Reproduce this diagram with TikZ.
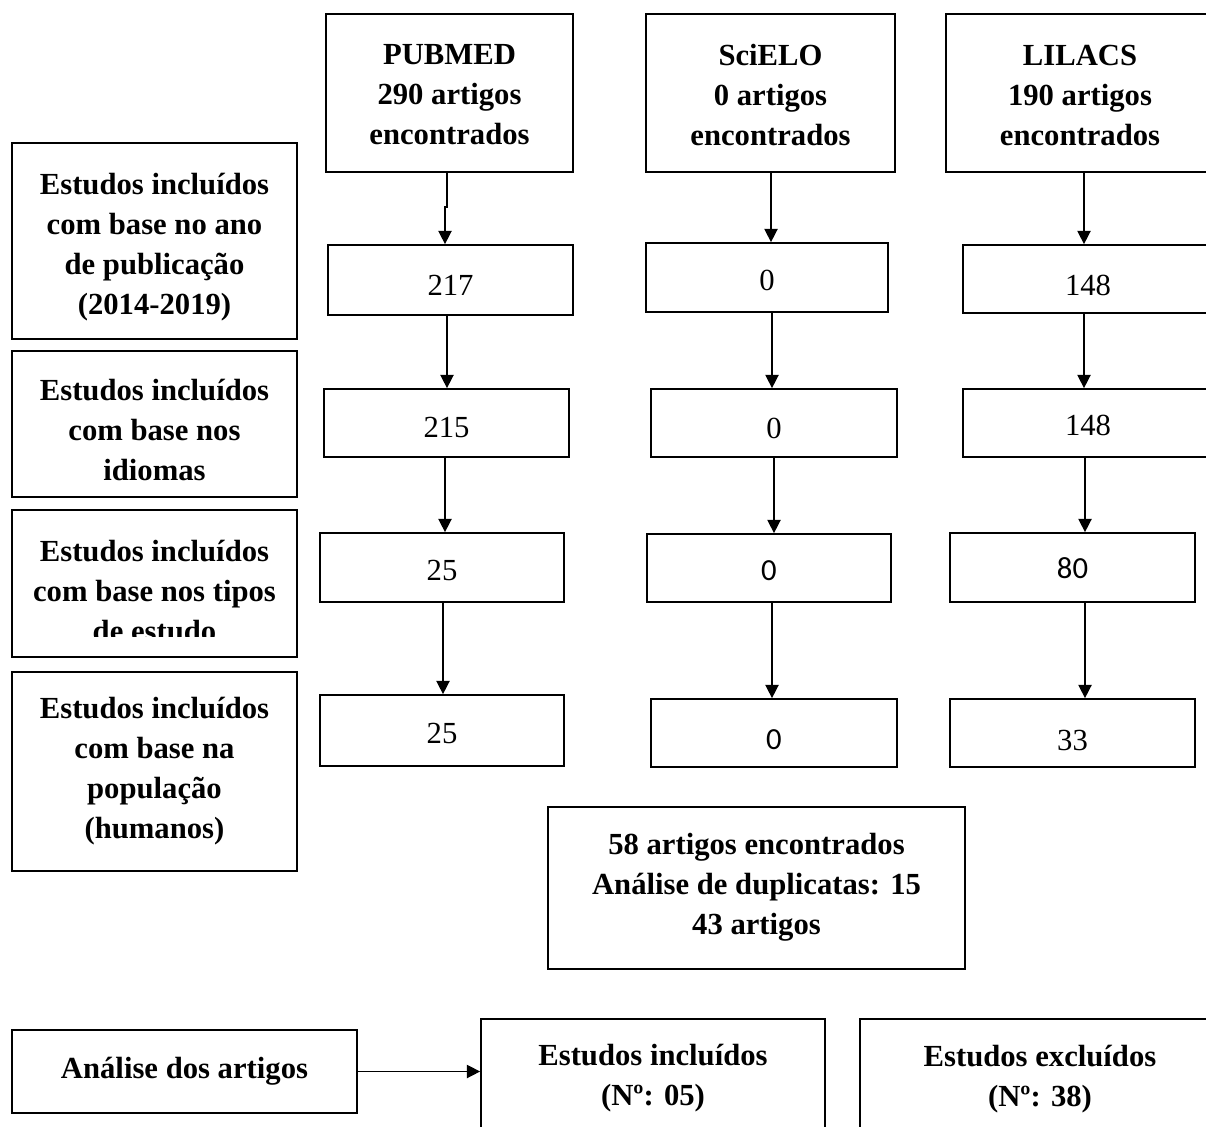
\documentclass[tikz,border=0pt]{standalone}
\usepackage{fontspec}
\setmainfont{Liberation Serif}
\newfontfamily\numsans{Carlito}
\usetikzlibrary{arrows.meta,fit,calc}
\begin{document}
\begin{tikzpicture}[x=0.75pt,y=-0.75pt,
  box/.style={draw, line width=1.3pt, inner sep=0pt},
  ntext/.style={inner sep=0pt, align=center, font=\fontsize{23}{30}\selectfont},
  htext/.style={inner sep=0pt, align=center, font=\fontsize{23}{30}\selectfont\bfseries},
  stext/.style={inner sep=0pt, align=center, font=\fontsize{23}{30}\selectfont\numsans},
  arr/.style={line width=1.1pt, -{Triangle[length=10pt,width=10pt]}}]
\useasboundingbox (0,0) rectangle (1206,1127);

% ---------- boxes ----------
\node[box, fit={(326,14)(573,172)}] (pub) {};
\node[box, fit={(646,14)(895,172)}] (sci) {};
\node[box, fit={(946,14)(1214,172)}] (lil) {};

\node[box, fit={(12,143)(297,339)}] (c1) {};
\node[box, fit={(12,351)(297,497)}] (c2) {};
\node[box, fit={(12,510)(297,657)}] (c3) {};
\node[box, fit={(12,672)(297,871)}] (c4) {};

\node[box, fit={(328,245)(573,315)}] (p1) {};
\node[box, fit={(324,389)(569,457)}] (p2) {};
\node[box, fit={(320,533)(564,602)}] (p3) {};
\node[box, fit={(320,695)(564,766)}] (p4) {};

\node[box, fit={(646,243)(888,312)}] (s0) {};
\node[box, fit={(651,389)(897,457)}] (s1) {};
\node[box, fit={(647,534)(891,602)}] (s2) {};
\node[box, fit={(651,699)(897,767)}] (s3) {};

\node[box, fit={(963,245)(1213,313)}] (l1) {};
\node[box, fit={(963,389)(1213,457)}] (l2) {};
\node[box, fit={(950,533)(1195,602)}] (l3) {};
\node[box, fit={(950,699)(1195,767)}] (l4) {};

\node[box, fit={(548,807)(965,969)}] (dup) {};

\node[box, fit={(12,1030)(357,1113)}] (ana) {};
\node[box, fit={(481,1019)(825,1136)}] (inc) {};
\node[box, fit={(860,1019)(1220,1136)}] (exc) {};

% ---------- texts ----------
\node[htext] (pubt) at ($(pub.center)+(0,2)$) {PUBMED\\290 artigos\\encontrados};
\node[htext] (scit) at ($(sci.center)+(0,2)$) {SciELO\\0 artigos\\encontrados};
\node[htext] (lilt) at ($(lil.center)+(0,2)$) {LILACS\\190 artigos\\encontrados};

\node[htext] (c1t) at ($(c1.center)+(0,6)$) {Estudos incluídos\\com base no ano\\de publicação\\(2014-2019)};
\node[htext] (c2t) at ($(c2.center)+(0,6)$) {Estudos incluídos\\com base nos\\idiomas};
\begin{scope}
  \clip (12,510) rectangle (297,636);
  \node[htext] (c3t) at (154.5,591) {Estudos incluídos\\com base nos tipos\\de estudo};
\end{scope}
\node[htext] (c4t) at ($(c4.center)+(0,0)$) {Estudos incluídos\\com base na\\população\\(humanos)};

\node[ntext] (p1t) at ($(p1.center)+(0,5)$) {217};
\node[ntext] (p2t) at ($(p2.center)+(0,4)$) {215};
\node[ntext] (p3t) at ($(p3.center)+(0,3)$) {25};
\node[ntext] (p4t) at ($(p4.center)+(0,3)$) {25};

\node[ntext] (s0t) at ($(s0.center)+(0,3)$) {0};
\node[ntext] (s1t) at ($(s1.center)+(0,5)$) {0};
\node[stext] (s2t) at ($(s2.center)+(0,3)$) {0};
\node[stext] (s3t) at ($(s3.center)+(0,7)$) {0};

\node[ntext] (l1t) at ($(l1.center)+(0,6)$) {148};
\node[ntext] (l2t) at ($(l2.center)+(0,2)$) {148};
\node[stext] (l3t) at ($(l3.center)+(0,1)$) {80};
\node[ntext] (l4t) at ($(l4.center)+(0,7)$) {33};

\node[htext] (dupt) at ($(dup.center)+(0,-1)$) {58 artigos encontrados\\Análise de duplicatas: 15\\43 artigos};

\node[htext] (anat) at ($(ana.center)+(0,0)$) {Análise dos artigos};
\node[htext] (inct) at ($(inc.center)+(0,1)$) {Estudos incluídos\\(Nº: 05)};
\node[htext] (exct) at ($(exc.center)+(0,2)$) {Estudos excluídos\\(Nº: 38)};

% ---------- arrow x positions ----------
\coordinate (j1) at (447,207);
\coordinate (j2) at (445,207);
\coordinate (xa) at (447,0);
\coordinate (xb) at (445,0);
\coordinate (xc) at (443,0);
\coordinate (xs1) at (771,0);
\coordinate (xs2) at (772,0);
\coordinate (xs3) at (774,0);
\coordinate (xl1) at (1084,0);
\coordinate (xl2) at (1085,0);

% PUBMED arrows
\draw[arr] (pub.south -| j1) -- (j1) -- (j2) -- (p1.north -| j2);
\draw[arr] (p1.south -| xa) -- (p2.north -| xa);
\draw[arr] (p2.south -| xb) -- (p3.north -| xb);
\draw[arr] (p3.south -| xc) -- (p4.north -| xc);

% SciELO arrows
\draw[arr] (sci.south -| xs1) -- (s0.north -| xs1);
\draw[arr] (s0.south -| xs2) -- (s1.north -| xs2);
\draw[arr] (s1.south -| xs3) -- (s2.north -| xs3);
\draw[arr] (s2.south -| xs2) -- (s3.north -| xs2);

% LILACS arrows
\draw[arr] (lil.south -| xl1) -- (l1.north -| xl1);
\draw[arr] (l1.south -| xl1) -- (l2.north -| xl1);
\draw[arr] (l2.south -| xl2) -- (l3.north -| xl2);
\draw[arr] (l3.south -| xl2) -- (l4.north -| xl2);

% bottom arrow
\draw[arr] (ana.east) -- (ana.east -| inc.west);
\end{tikzpicture}
\end{document}
